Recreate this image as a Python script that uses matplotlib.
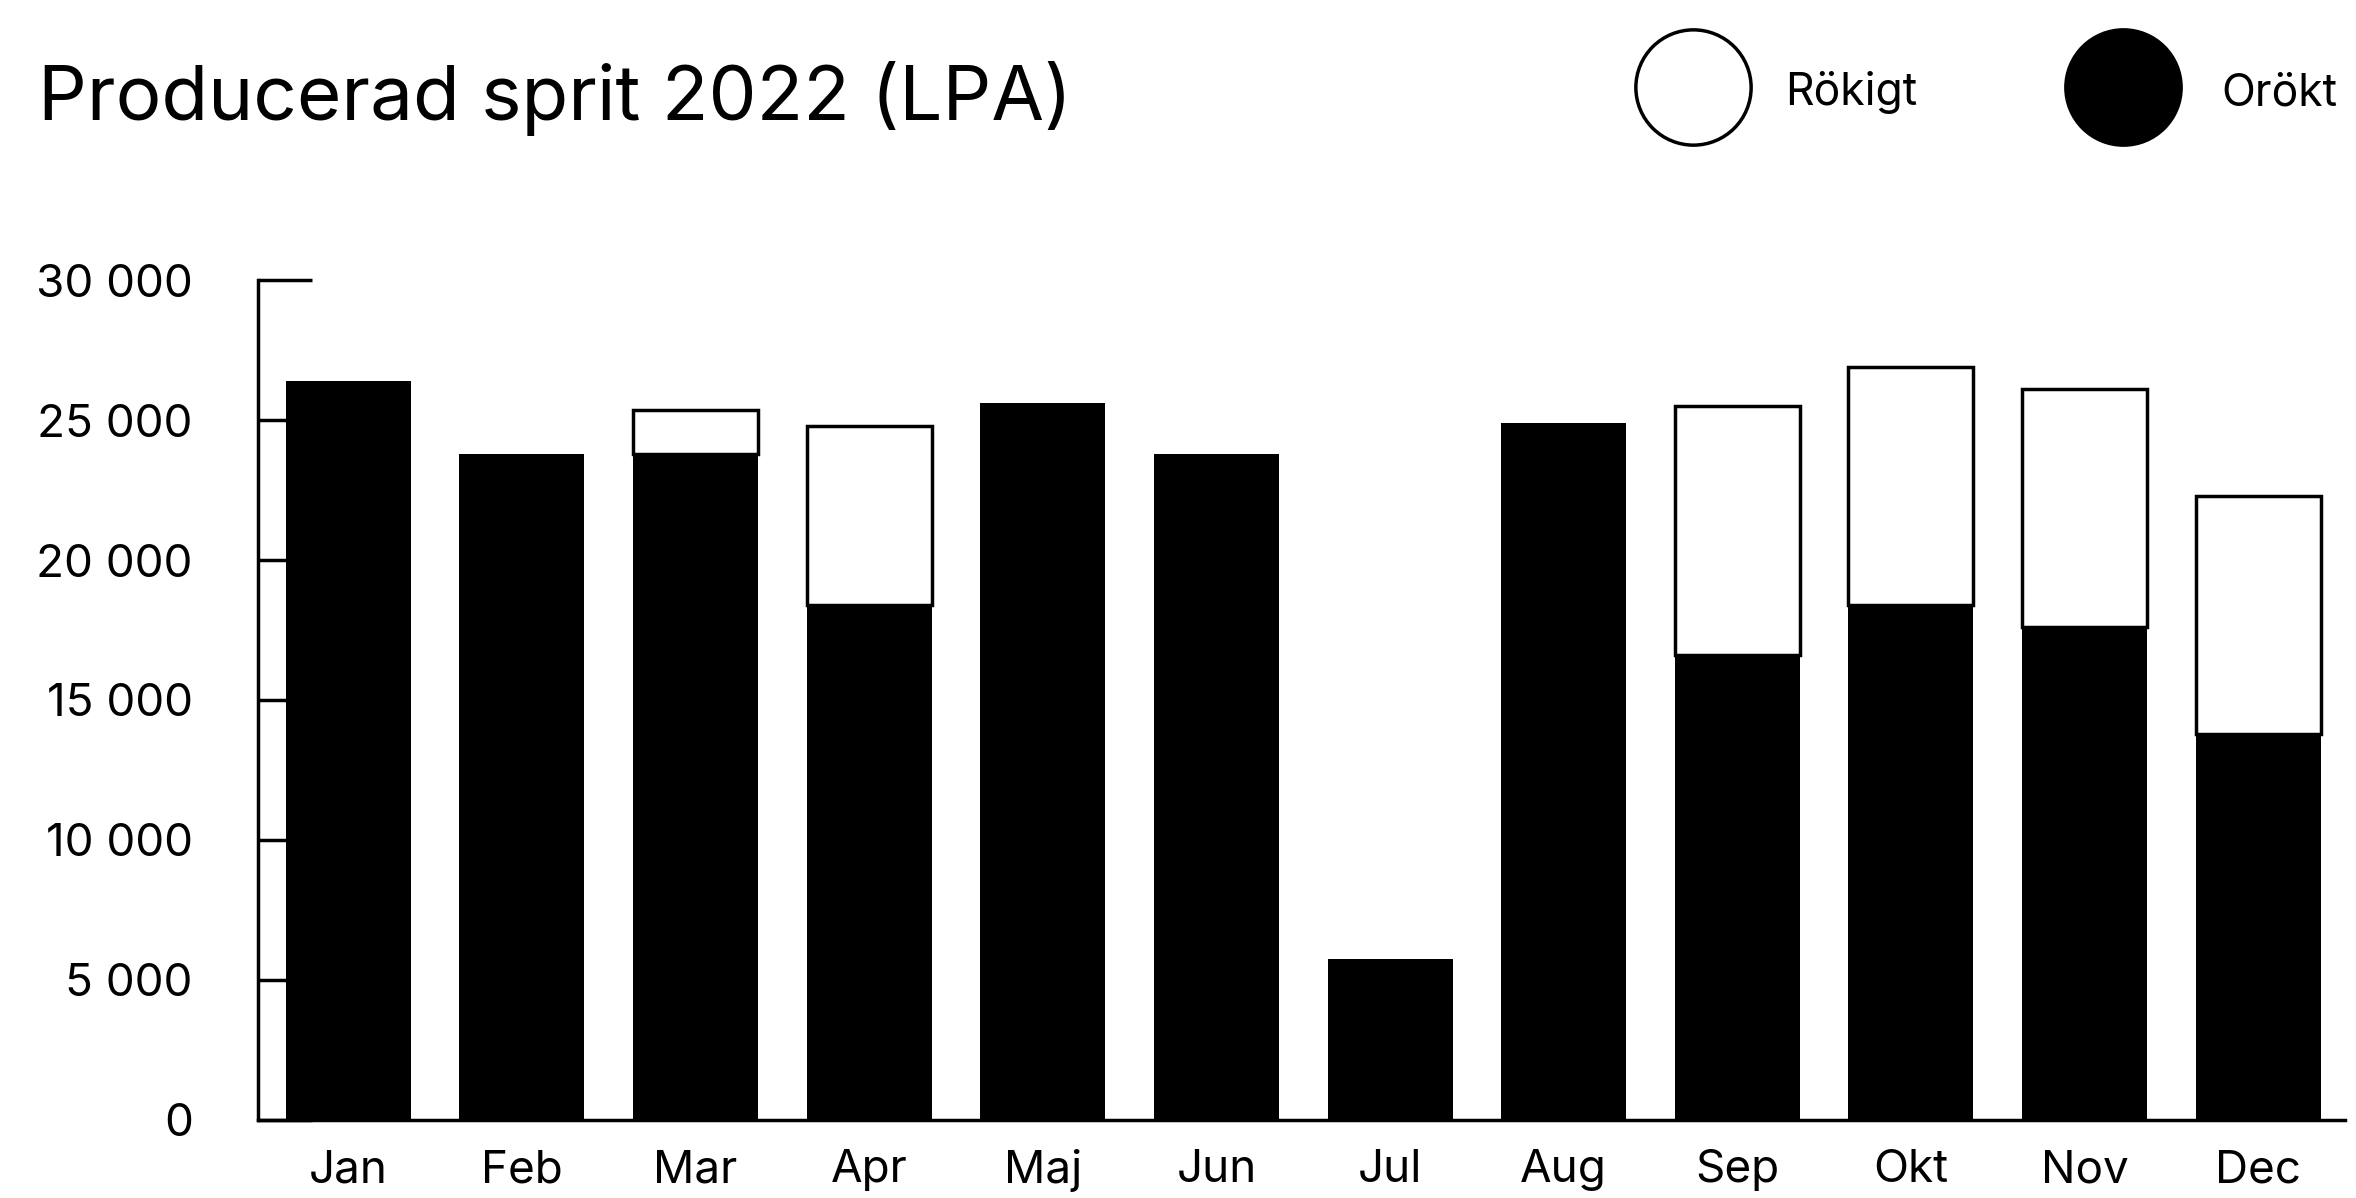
import numpy as np
import matplotlib
matplotlib.use("Agg")
import matplotlib.pyplot as plt
from matplotlib.lines import Line2D
from matplotlib.ticker import FuncFormatter

# ---- data ----
months = ["Jan", "Feb", "Mar", "Apr", "Maj", "Jun", "Jul", "Aug", "Sep", "Okt", "Nov", "Dec"]
orokt = [26400, 23800, 23800, 18400, 25600, 23800, 5750, 24900, 16600, 18400, 17600, 13800]
rokigt = [0, 0, 1550, 6400, 0, 0, 0, 0, 8900, 8500, 8500, 8500]
series_names = ["Rökigt", "Orökt"]
y_ticks = [0, 5000, 10000, 15000, 20000, 25000, 30000]
title = "Producerad sprit 2022 (LPA)"

plt.rcParams['font.family'] = ['Inter', 'DejaVu Sans']

W, H = 2356, 1198
DPI = 100
fig = plt.figure(figsize=(W / DPI, H / DPI), dpi=DPI)
fig.patch.set_facecolor("white")

ax = fig.add_axes([258 / W, (H - 1120) / H, (2345 - 258) / W, (1120 - 280) / H])

x = np.arange(len(months))
orokt_a = np.array(orokt, dtype=float)
rokigt_a = np.array(rokigt, dtype=float)
bw = 0.72

ax.bar(x, orokt_a, width=bw, color="black", linewidth=0, zorder=1)
mask = rokigt_a > 0
ax.bar(x[mask], rokigt_a[mask], bottom=orokt_a[mask], width=bw,
       facecolor="white", edgecolor="black", linewidth=2.5, zorder=1)

ax.set_xlim(-0.52, 11.5)
ax.set_ylim(0, 30000)
ax.set_yticks(y_ticks)
ax.yaxis.set_major_formatter(FuncFormatter(lambda v, p: f"{int(v):,}".replace(",", " ")))
ax.set_xticks(x)
ax.set_xticklabels(months)

for s in ["top", "right"]:
    ax.spines[s].set_visible(False)
for s in ["left", "bottom"]:
    ax.spines[s].set_linewidth(2.5)
    ax.spines[s].set_color("black")

ax.tick_params(axis="y", direction="in", length=39, width=2.5, pad=47,
               labelsize=33, colors="black")
ax.tick_params(axis="x", length=0, pad=21, labelsize=33, colors="black")

fig.text(38 / W, 1 - 120 / H, title, fontsize=55, ha="left", va="baseline", color="black")

# legend (manual)
leg_y = 1 - 87 / H
fig.add_artist(Line2D([1693 / W], [leg_y], transform=fig.transFigure, marker="o",
                      markersize=83, markerfacecolor="white", markeredgecolor="black",
                      markeredgewidth=2.5, linestyle="none"))
fig.text(1785 / W, 1 - 93 / H, series_names[0], fontsize=32, ha="left", va="center", color="black")
fig.add_artist(Line2D([2123 / W], [leg_y], transform=fig.transFigure, marker="o",
                      markersize=83, markerfacecolor="black", markeredgecolor="black",
                      markeredgewidth=2.5, linestyle="none"))
fig.text(2221 / W, 1 - 93 / H, series_names[1], fontsize=32, ha="left", va="center", color="black")

fig.savefig("out.png", dpi=DPI, facecolor="white")
